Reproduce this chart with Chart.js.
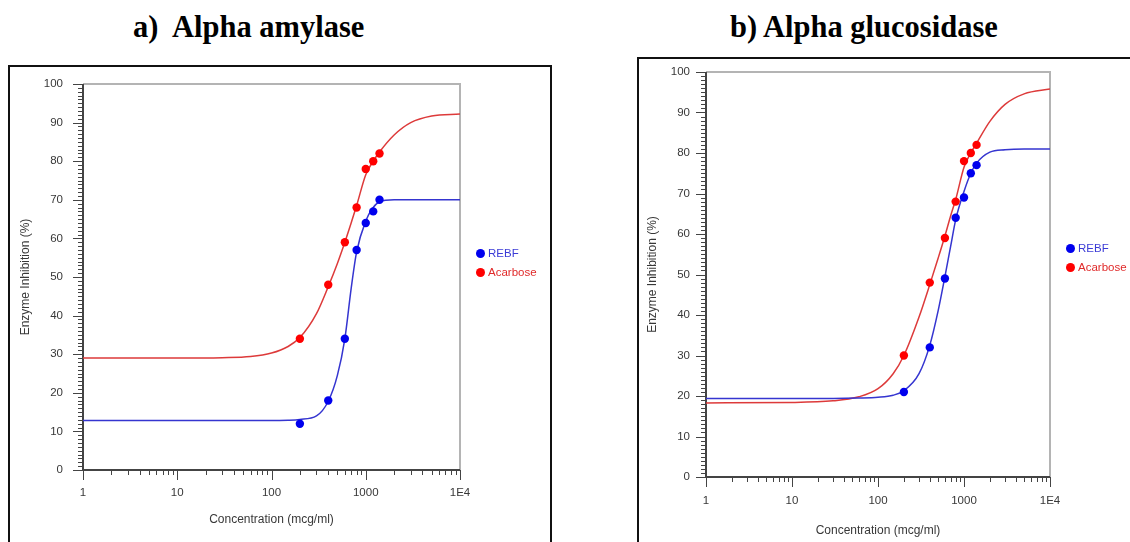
<!DOCTYPE html>
<html>
<head>
<meta charset="utf-8">
<script src="https://cdn.jsdelivr.net/npm/chart.js@4"></script>
<style>
    body { margin: 0; background: #fff; width: 1130px; height: 542px; overflow: hidden; position: relative;
           font-family: "Liberation Sans", Arial, sans-serif; }
    .title { position: absolute; font-family: "Liberation Serif", "Times New Roman", serif; font-weight: bold;
             font-size: 30.5px; line-height: 28px; white-space: pre; color: #000; }
    .box { position: absolute; border: 2px solid #111; }
    canvas { position: absolute; }
    .legend { position: absolute; font-size: 11.5px; }
    .legend div { height: 19px; line-height: 19px; white-space: nowrap; }
    .legend .dot { display: inline-block; width: 9px; height: 9px; border-radius: 50%; margin-right: 3px; vertical-align: -1px; }
</style>
</head>
<body>
<div class="title" style="left:133px; top:13px;">a)  Alpha amylase</div>
<div class="title" style="left:730px; top:13px;">b) Alpha glucosidase</div>

<div class="box" style="left:8px; top:65px; width:540px; height:600px;"></div>
<div class="box" style="left:637px; top:57px; width:600px; height:600px;"></div>

<canvas id="chartAmylase" width="540" height="475" style="left:10px; top:67px;"></canvas>
<canvas id="chartGlucosidase" width="491" height="483" style="left:639px; top:59px;"></canvas>

<div class="legend" id="legendAmylase" style="left:476px; top:244px;"></div>
<div class="legend" id="legendGlucosidase" style="left:1066px; top:239px;"></div>

<script>
// Экспериментальные точки: концентрация (mcg/ml)
const concentrations = [200, 400, 600, 800, 1000, 1200, 1400];

// a) Alpha amylase — ингибирование, %
const amylaseREBF = [12, 18, 34, 57, 64, 67, 70];
const amylaseAcarbose = [34, 48, 59, 68, 78, 80, 82];

// b) Alpha glucosidase — ингибирование, %
const glucosidaseREBF = [21, 32, 49, 64, 69, 75, 77];
const glucosidaseAcarbose = [30, 48, 59, 68, 78, 80, 82];

const fitConcentrations = [1, 10, 30, 60, 100, 150, 200, 300, 400, 500, 600, 700, 800, 1000, 1200, 1400, 2000, 3000, 5000, 10000];
const amylaseFitREBF = [12.8, 12.8, 12.8, 12.8, 12.8, 12.9, 13.1, 14, 17.8, 24.5, 34, 47, 56.5, 64.5, 68, 69.5, 70, 70, 70, 70];
const amylaseFitAcarbose = [29, 29, 29.1, 29.4, 30.3, 32, 34.3, 40.5, 47.5, 53.5, 59, 64, 68.5, 76.5, 80, 82.4, 86.8, 90, 91.7, 92.2];
const glucosidaseFitREBF = [19.4, 19.4, 19.4, 19.5, 19.7, 20.2, 21.3, 25.5, 32.5, 41, 49.5, 57, 63.5, 70.5, 75, 77.5, 80.2, 80.8, 81, 81];
const glucosidaseFitAcarbose = [18.3, 18.4, 18.8, 19.8, 21.8, 25.5, 30, 39.5, 47.5, 54, 59.5, 64.5, 68.5, 76.5, 80, 82.4, 87.8, 92, 94.6, 95.8];

// Подписи осей
const seriesNames = ['REBF', 'Acarbose'];
const xTickValues = [1, 10, 100, 1000, 10000];
const xTickLabels = ['1', '10', '100', '1000', '1E4'];
const yTickValues = [0, 10, 20, 30, 40, 50, 60, 70, 80, 90, 100];
const xAxisTitle = 'Concentration (mcg/ml)';
const yAxisTitle = 'Enzyme Inhibition (%)';

const pointColors = ['#0000ee', '#ff0000'];
const lineColors = ['#3535d0', '#dd3a3a'];
const legendTextColors = ['#3b3bd6', '#e02a2a'];
const AXIS_COLOR = '#444';
const TEXT_COLOR = '#383838';

function toXY(xs, ys) {
    return xs.map((x, i) => ({ x: x, y: ys[i] }));
}

// Рамка, оси и засечки (major длиннее minor)
const axisFramePlugin = {
    id: 'axisFrame',
    beforeDatasetsDraw(chart) {
        const { ctx, chartArea, scales } = chart;
        const left = chartArea.left, right = chartArea.right, top = chartArea.top, bottom = chartArea.bottom;
        ctx.save();

        ctx.strokeStyle = '#b4b4b4';
        ctx.lineWidth = 2;
        ctx.beginPath();
        ctx.moveTo(left, top);
        ctx.lineTo(right, top);
        ctx.lineTo(right, bottom);
        ctx.stroke();

        ctx.strokeStyle = AXIS_COLOR;
        ctx.lineWidth = 1;
        ctx.beginPath();
        for (let v = 0; v <= 100; v++) {
            const py = Math.round(scales.y.getPixelForValue(v)) + 0.5;
            const len = v % 10 === 0 ? 10 : 5;
            ctx.moveTo(left - len, py);
            ctx.lineTo(left, py);
        }
        for (let d = 1; d <= 10000; d *= 10) {
            for (let m = 1; m < 10; m++) {
                const v = d * m;
                if (v > 10000) break;
                const px = Math.round(scales.x.getPixelForValue(v)) + 0.5;
                const len = m === 1 ? 10 : 5;
                ctx.moveTo(px, bottom);
                ctx.lineTo(px, bottom + len);
            }
        }
        ctx.stroke();

        ctx.lineWidth = 2;
        ctx.beginPath();
        ctx.moveTo(left, top);
        ctx.lineTo(left, bottom);
        ctx.lineTo(right, bottom);
        ctx.stroke();
        ctx.restore();
    }
};

function buildLegend(id) {
    const el = document.getElementById(id);
    seriesNames.forEach((name, i) => {
        const row = document.createElement('div');
        row.innerHTML = `<span class="dot" style="background:${pointColors[i]}"></span>` +
            `<span style="color:${legendTextColors[i]}">${name}</span>`;
        el.appendChild(row);
    });
}

function buildPanel(canvasId, pointsREBF, pointsAcarbose, fitREBF, fitAcarbose, layout) {
    const ctx = document.getElementById(canvasId).getContext('2d');
    const fits = [fitREBF, fitAcarbose];
    const points = [pointsREBF, pointsAcarbose];
    const datasets = [];

    points.forEach((ys, i) => {
        datasets.push({
            label: seriesNames[i],
            data: toXY(concentrations, ys),
            showLine: false,
            pointRadius: 4.2,
            pointBackgroundColor: pointColors[i],
            pointBorderWidth: 0,
            order: 0
        });
    });
    fits.forEach((ys, i) => {
        datasets.push({
            label: seriesNames[i] + ' fit',
            data: toXY(fitConcentrations, ys),
            showLine: true,
            borderColor: lineColors[i],
            borderWidth: 1.5,
            pointRadius: 0,
            cubicInterpolationMode: 'monotone',
            order: 1
        });
    });

    return new Chart(ctx, {
        type: 'scatter',
        data: { datasets: datasets },
        options: {
            responsive: false,
            animation: false,
            events: [],
            layout: { padding: layout.padding },
            plugins: { legend: { display: false }, tooltip: { enabled: false } },
            scales: {
                x: {
                    type: 'logarithmic',
                    min: 1,
                    max: 10000,
                    afterBuildTicks: (scale) => { scale.ticks = xTickValues.map(v => ({ value: v })); },
                    afterFit: (scale) => { scale.height = layout.xHeight; },
                    // засечки рисует плагин, здесь только отступ под подписи
                    grid: { display: false, drawTicks: true, tickLength: layout.xTick },
                    border: { display: false },
                    ticks: {
                        autoSkip: false,
                        maxRotation: 0,
                        padding: 6,
                        color: TEXT_COLOR,
                        font: { family: 'Liberation Sans', size: 11.5 },
                        callback: (value) => xTickLabels[xTickValues.indexOf(value)]
                    },
                    title: { display: true, text: xAxisTitle, color: TEXT_COLOR,
                             font: { family: 'Liberation Sans', size: 12 } }
                },
                y: {
                    min: 0,
                    max: 100,
                    afterBuildTicks: (scale) => { scale.ticks = yTickValues.map(v => ({ value: v })); },
                    afterFit: (scale) => { scale.width = layout.yWidth; },
                    grid: { display: false, drawTicks: true, tickLength: layout.yTick },
                    border: { display: false },
                    ticks: {
                        padding: 6,
                        color: TEXT_COLOR,
                        font: { family: 'Liberation Sans', size: 11.5 }
                    },
                    title: { display: true, text: yAxisTitle, color: TEXT_COLOR,
                             font: { family: 'Liberation Sans', size: 12 } }
                }
            }
        },
        plugins: [axisFramePlugin]
    });
}

document.addEventListener('DOMContentLoaded', () => {
    buildPanel('chartAmylase', amylaseREBF, amylaseAcarbose, amylaseFitREBF, amylaseFitAcarbose, {
        padding: { left: 4, top: 17, right: 90, bottom: 11 },
        yWidth: 69, xHeight: 61, xTick: 10, yTick: 14
    });
    buildPanel('chartGlucosidase', glucosidaseREBF, glucosidaseAcarbose, glucosidaseFitREBF, glucosidaseFitAcarbose, {
        padding: { left: 2, top: 13, right: 80, bottom: 0 },
        yWidth: 65, xHeight: 65, xTick: 11, yTick: 10
    });
    buildLegend('legendAmylase');
    buildLegend('legendGlucosidase');
});
</script>
</body>
</html>
